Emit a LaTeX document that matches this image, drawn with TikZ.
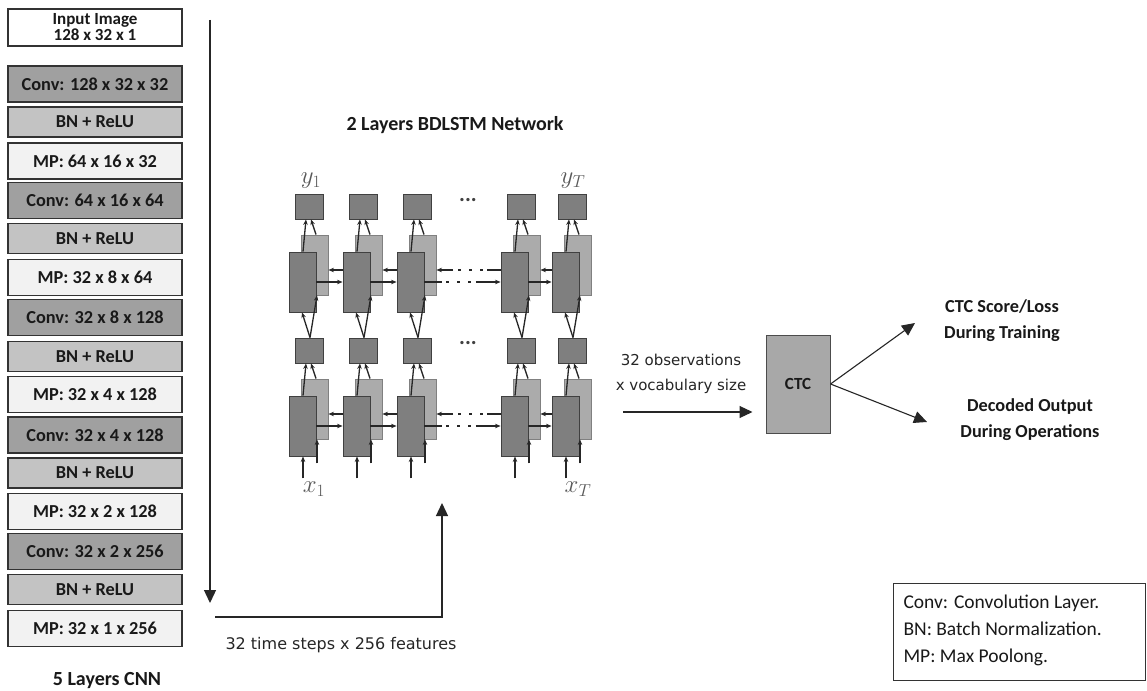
\documentclass[tikz,border=0pt]{standalone}
\usepackage{fontspec}
\setmainfont{Carlito}
\newfontfamily\verd{DejaVu Sans}
\usetikzlibrary{arrows.meta,calc}
\definecolor{convc}{HTML}{A0A0A0}
\definecolor{bnc}{HTML}{C3C3C3}
\definecolor{mpc}{HTML}{F2F2F2}
\definecolor{lstmd}{HTML}{7F7F7F}
\definecolor{lstml}{HTML}{ABABAB}
\definecolor{ctcc}{HTML}{A8A8A8}
\tikzset{
  lay/.style={draw=black!80, line width=1.1pt, minimum width=174pt, inner sep=0pt,
    font=\fontsize{18.3}{19}\selectfont\bfseries, text=black!90},
  convb/.style={lay, fill=convc, minimum height=36pt},
  bnb/.style={lay, fill=bnc, minimum height=30pt},
  mpb/.style={lay, fill=mpc, minimum height=36pt},
  bigarr/.style={line width=1.3pt, draw=black!85, -{Triangle[length=13pt,width=12pt]}},
  midarr/.style={line width=1.1pt, draw=black!85, -{Triangle[length=13pt,width=12pt]}},
  sarr/.style={line width=1.3pt, draw=black!85, -{Stealth[length=5.5pt,width=4.5pt]}},
  sbox/.style={draw=black!75, fill=lstmd, line width=0.9pt, minimum width=28pt, minimum height=25pt, inner sep=0pt},
  dbox/.style={draw=black!75, fill=lstmd, line width=0.9pt, minimum width=27pt, minimum height=60pt, inner sep=0pt},
  lbox/.style={draw=black!50, fill=lstml, line width=0.9pt, minimum width=27pt, minimum height=60pt, inner sep=0pt},
  lab/.style={text=black!65, font=\fontsize{24}{24}\selectfont},
  dotlab/.style={text=black!75, font=\fontsize{22}{22}\selectfont\bfseries},
  boldtxt/.style={font=\fontsize{18.3}{26}\selectfont\bfseries, align=center, text=black!90},
  headtxt/.style={font=\fontsize{20}{22}\selectfont\bfseries, text=black!90},
  vtxt/.style={font=\verd\fontsize{15}{25}\selectfont, text=black!85},
}
\begin{document}
\begin{tikzpicture}[x=1pt,y=-1pt]
\useasboundingbox (0,0) rectangle (1147,690);
\fill[white] (0,0) rectangle (1147,690);

% CNN column
\node[lay, fill=white, minimum height=37pt, align=center, font=\fontsize{17}{16}\selectfont\bfseries] (inp) at (95,27.5) {Input Image\\128 x 32 x 1};
\node[convb] (cv1) at (95,84) {Conv: 128 x 32 x 32};
\node[bnb] (bn1) at (95,122) {BN + ReLU};
\node[mpb] (mp1) at (95,161) {MP: 64 x 16 x 32};
\node[convb] (cv2) at (95,200.5) {Conv: 64 x 16 x 64};
\node[bnb] (bn2) at (95,238.5) {BN + ReLU};
\node[mpb] (mp2) at (95,277.5) {MP: 32 x 8 x 64};
\node[convb] (cv3) at (95,317.5) {Conv: 32 x 8 x 128};
\node[bnb] (bn3) at (95,356.5) {BN + ReLU};
\node[mpb] (mp3) at (95,394.5) {MP: 32 x 4 x 128};
\node[convb] (cv4) at (95,435) {Conv: 32 x 4 x 128};
\node[bnb] (bn4) at (95,473) {BN + ReLU};
\node[mpb] (mp4) at (95,511.5) {MP: 32 x 2 x 128};
\node[convb] (cv5) at (95,551.5) {Conv: 32 x 2 x 256};
\node[bnb] (bn5) at (95,589.5) {BN + ReLU};
\node[mpb] (mp5) at (95,628.5) {MP: 32 x 1 x 256};
\node[headtxt] (cnnlab) at (107,681) {5 Layers CNN};

\coordinate (ca) at (210,20);
\coordinate (cb) at (210,603);
\draw[bigarr] (ca) -- (cb);

\coordinate (f0) at (215,617);
\coordinate (f1) at (442,617);
\coordinate (f2) at (442,503);
\draw[bigarr] (f0) -- (f1) -- (f2);
\node[vtxt, anchor=west, font=\verd\fontsize{16}{25}\selectfont] (feat) at (222,645) {32 time steps x 256 features};

% BDLSTM
\node[headtxt] (ttl) at (455,125) {2 Layers BDLSTM Network};
\foreach \i/\c in {1/309,2/363,3/417,4/521,5/572}{
  \node[lbox] (lu\i) at (\c+5.5,265) {};
  \node[dbox] (du\i) at (\c-6.5,282) {};
  \node[sbox] (st\i) at (\c,206.5) {};
  \node[sbox] (sm\i) at (\c,350.5) {};
  \node[lbox] (ll\i) at (\c+5.5,409) {};
  \node[dbox] (dl\i) at (\c-6.5,426) {};
}
\foreach \i in {1,...,5}{
  \draw[sarr] ($(du\i.north)+(0.5,0)$) -- ($(st\i.south)+(-3,0)$);
  \draw[sarr] ($(lu\i.north)+(1.5,0)$) -- ($(st\i.south)+(2,0)$);
  \draw[sarr] ($(sm\i.north)+(1,0)$) -- ($(du\i.south)+(-0.5,0)$);
  \draw[sarr] ($(sm\i.north)+(1,0)$) -- ($(lu\i.south)+(2.5,0)$);
  \draw[sarr] ($(dl\i.north)+(0.5,0)$) -- ($(sm\i.south)+(-3,0)$);
  \draw[sarr] ($(ll\i.north)+(1.5,0)$) -- ($(sm\i.south)+(2,0)$);
  \draw[sarr] ($(dl\i.south)+(0.5,22)$) -- ($(dl\i.south)+(0.5,0)$);
  \draw[sarr] ($(ll\i.south)+(2.5,24)$) -- ($(ll\i.south)+(2.5,0)$);
}
\foreach \i/\j in {1/2,2/3,4/5}{
  \draw[sarr] (du\i.east) -- (du\j.west);
  \draw[sarr] ($(du\j.west)+(0,-12)$) -- ($(lu\i.east)+(0,5)$);
  \draw[sarr] (dl\i.east) -- (dl\j.west);
  \draw[sarr] ($(dl\j.west)+(0,-12)$) -- ($(ll\i.east)+(0,5)$);
}
\tikzset{leftdots/.style={dash pattern=on 14pt off 4pt on 2.5pt off 8.5pt on 2.5pt off 8.5pt on 2.5pt off 5pt on 40pt},
         rightdots/.style={dash pattern=on 18pt off 4pt on 2.5pt off 8.5pt on 2.5pt off 8.5pt on 2.5pt off 5pt on 40pt}}
\draw[sarr, rightdots] (du3.east) -- (du4.west);
\draw[sarr, leftdots] ($(du4.west)+(0,-12)$) -- ($(lu3.east)+(0,5)$);
\draw[sarr, rightdots] (dl3.east) -- (dl4.west);
\draw[sarr, leftdots] ($(dl4.west)+(0,-12)$) -- ($(ll3.east)+(0,5)$);

\node[dotlab] (dtop) at (468,200) {...};
\node[dotlab] (dmid) at (468,343) {...};
\node[lab] (ly1) at (311,181) {$y_1$};
\node[lab] (lyT) at (573,181) {$y_T$};
\node[lab] (lx1) at (314,489) {$x_1$};
\node[lab] (lxT) at (578,489) {$x_T$};

% CTC
\node[draw=black!70, fill=ctcc, line width=1pt, minimum width=64pt, minimum height=98pt, inner sep=0pt,
  font=\fontsize{17}{18}\selectfont\bfseries, text=black!90] (ctc) at (798,384) {CTC};
\node[vtxt, align=center] (obs) at (681,374) {32 observations\\x vocabulary size};
\coordinate (i0) at (623,412);
\draw[midarr, shorten >=13pt] (i0) -- (i0 -| ctc.west);
\coordinate (o1) at (915,323);
\coordinate (o2) at (927,422);
\draw[midarr] (ctc.east) -- (o1);
\draw[midarr] (ctc.east) -- (o2);
\node[boldtxt] (train) at (1002,321) {CTC Score/Loss\\During Training};
\node[boldtxt] (oper) at (1030,420) {Decoded Output\\During Operations};

% legend
\node[draw=black!80, line width=1pt, minimum width=252pt, minimum height=97pt, inner sep=0pt] (leg) at (1019,631.5) {};
\node[anchor=west, align=left, font=\fontsize{19.5}{27}\selectfont, text=black!90] (legt) at (900,630)
  {Conv: Convolution Layer.\\BN: Batch Normalization.\\MP: Max Poolong.};
\end{tikzpicture}
\end{document}
